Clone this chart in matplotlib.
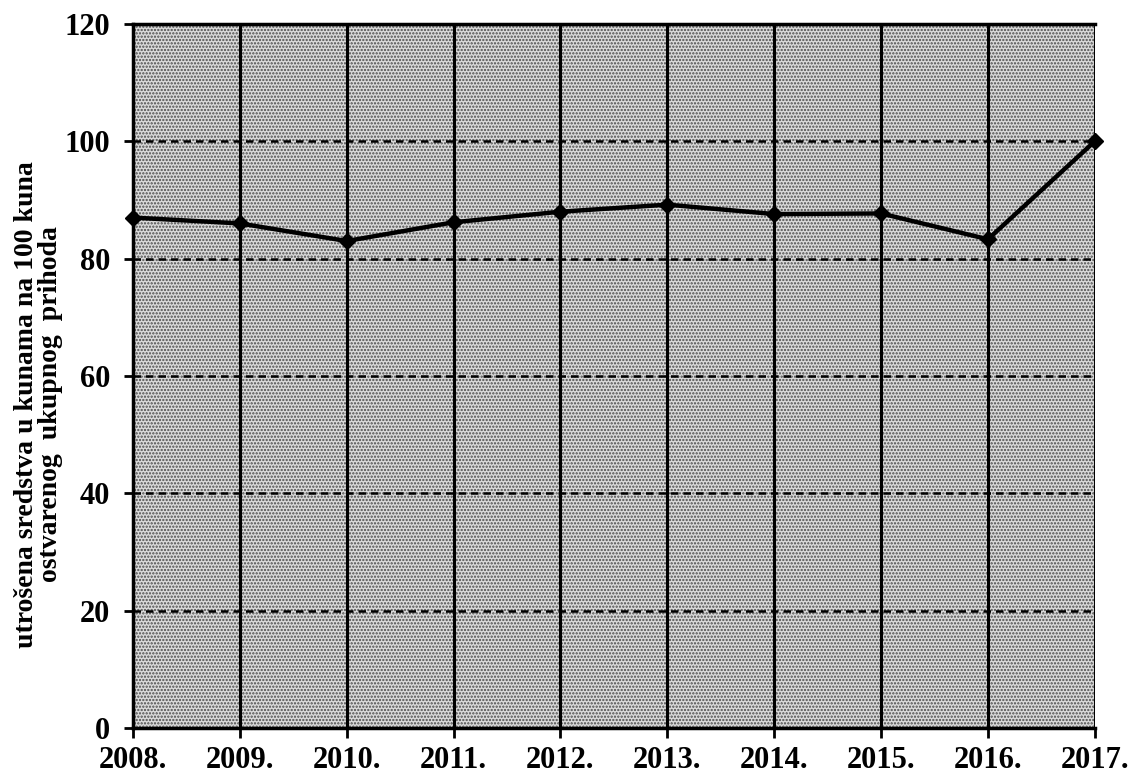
import matplotlib.pyplot as plt
from matplotlib.patches import Rectangle

# Podaci očitani s grafikona
godine = [2008, 2009, 2010, 2011, 2012, 2013, 2014, 2015, 2016, 2017]
oznake_godina = ['2008.', '2009.', '2010.', '2011.', '2012.', '2013.', '2014.', '2015.', '2016.', '2017.']
vrijednosti = [87, 86, 83, 86.2, 88, 89.2, 87.6, 87.7, 83.3, 100]
y_oznake = [0, 20, 40, 60, 80, 100, 120]

plt.rcParams['font.family'] = ['Liberation Serif', 'DejaVu Serif']
plt.rcParams['font.weight'] = 'bold'
plt.rcParams['hatch.linewidth'] = 1.1
plt.rcParams['hatch.color'] = '#4a4a4a'

fig = plt.figure(figsize=(11.31, 7.81), dpi=100)
ax = fig.add_axes([0.1176, 0.0679, 0.8504, 0.9014])

# Sivo rasterirano polje
ax.set_facecolor('#dadada')
ax.add_patch(Rectangle((0, 0), 1, 1, transform=ax.transAxes, facecolor='none',
                       hatch='.....', linewidth=0, zorder=0))

ax.set_xlim(2008, 2017)
ax.set_ylim(0, 120)

# Mreža: okomite pune, vodoravne isprekidane
for g in godine:
    ax.axvline(g, color='black', linewidth=2.2, zorder=1)
for y in y_oznake[1:-1]:
    ax.axhline(y, color='black', linewidth=1.8, linestyle=(0, (3, 2)), zorder=1)

ax.plot(godine, vrijednosti, color='black', linewidth=3.2, marker='D', markersize=8,
        zorder=3, clip_on=False)

for s in ['left', 'bottom', 'top']:
    ax.spines[s].set_linewidth(2.5)
ax.spines['right'].set_visible(False)

ax.set_xticks(godine)
ax.set_xticklabels(oznake_godina)
ax.set_yticks(y_oznake)
ax.tick_params(axis='x', direction='out', length=7, width=2, pad=6, labelsize=22)
ax.tick_params(axis='y', direction='out', length=6.5, width=2, pad=10, labelsize=22)

ax.set_ylabel('utrošena sredstva u kunama na 100 kuna\nostvarenog  ukupnog  prihoda',
              fontsize=20, fontweight='bold', linespacing=0.95)
ax.yaxis.set_label_coords(-0.073, 0.46)

fig.savefig('out.png', dpi=100)
